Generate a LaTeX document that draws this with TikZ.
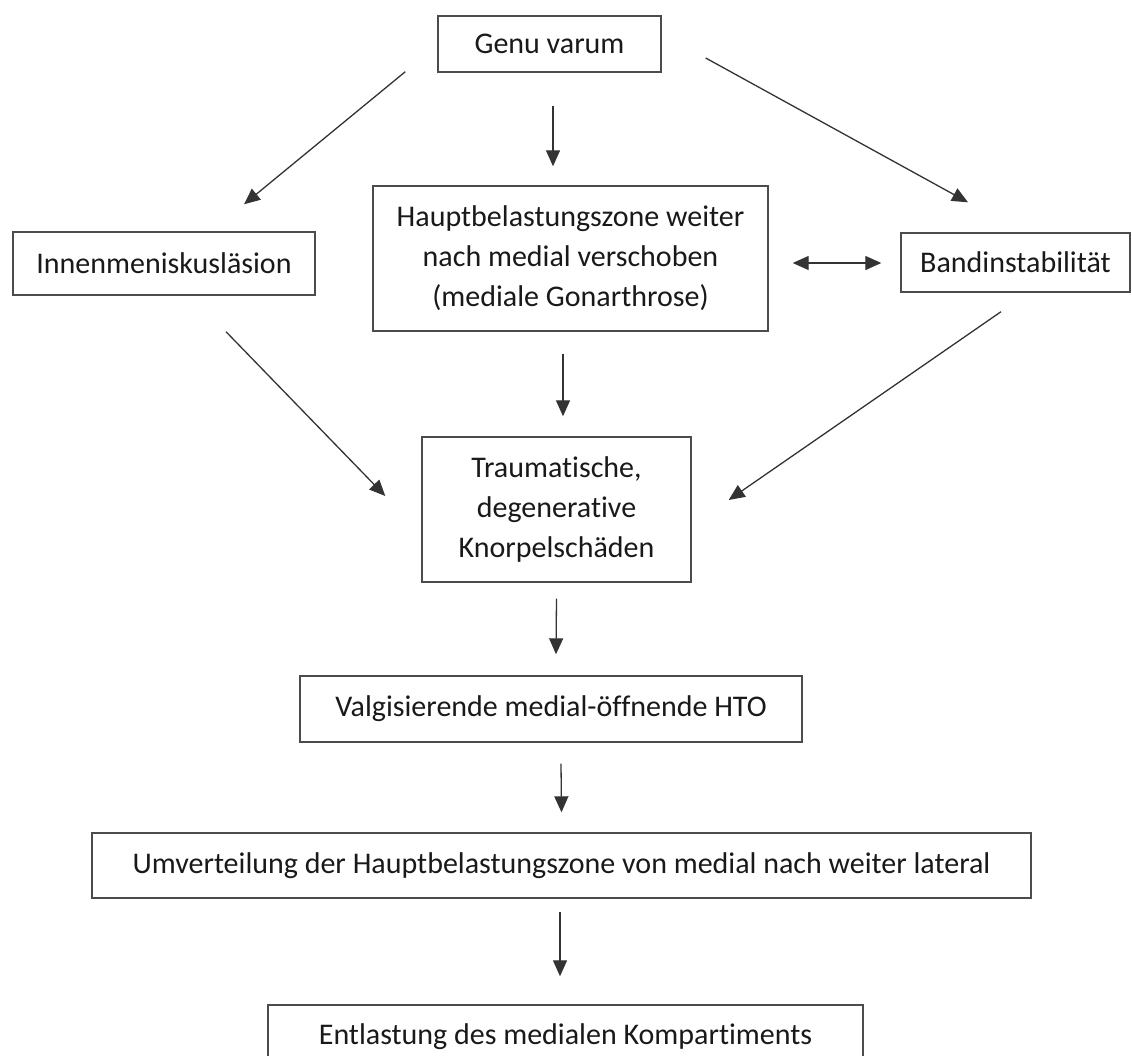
\documentclass[tikz,border=0pt]{standalone}
\usepackage{fontspec}
\setmainfont[Ligatures=NoCommon]{Carlito}
\usetikzlibrary{arrows.meta}

\begin{document}
\begin{tikzpicture}[x=1pt, y=-1pt,
        box/.style={draw=black!70, line width=1.4pt, align=center, inner sep=0pt,
            font=\fontsize{30}{40}\selectfont, text=black!90},
        arr/.style={-{Triangle[length=16pt,width=14pt]}, draw=black!80, line width=1.3pt},
        dblarr/.style={{Triangle[length=16pt,width=14pt]}-{Triangle[length=16pt,width=14pt]}, draw=black!80, line width=1.3pt}]
            \useasboundingbox (0, 0) rectangle (1132, 1055);

            % Nodes
            \node[box, minimum width=223pt, minimum height=56pt] (Genu) at (549.5, 44) {Genu varum};
            \node[box, minimum width=395pt, minimum height=145pt] (Haupt) at (570.5, 258.5)
                {Hauptbelastungszone weiter\\nach medial verschoben\\(mediale Gonarthrose)};
            \node[box, minimum width=302pt, minimum height=63pt] (Innen) at (164, 263.5) {Innenmeniskusläsion};
            \node[box, minimum width=229pt, minimum height=59pt] (Band) at (1015.5, 262.5) {Bandinstabilität};
            \node[box, minimum width=269pt, minimum height=145pt] (Knorpel) at (556.5, 509.5)
                {Traumatische,\\degenerative\\Knorpelschäden};
            \node[box, minimum width=502pt, minimum height=66pt] (HTO) at (551, 709) {Valgisierende medial-öffnende HTO};
            \node[box, minimum width=939pt, minimum height=65pt] (Umv) at (561.5, 865.5)
                {Umverteilung der Hauptbelastungszone von medial nach weiter lateral};
            \node[box, minimum width=595pt, minimum height=64pt] (Entl) at (565.5, 1037) {Entlastung des medialen Kompartiments};

            % Arrows
            \draw[arr] ([xshift=3.5pt, yshift=-33pt]Genu.south) -- ([xshift=-17.5pt, yshift=19pt]Haupt.north);
            \draw[arr] ([xshift=-32pt, yshift=1pt]Genu.south west) -- ([xshift=80pt, yshift=27pt]Innen.north);
            \draw[arr] ([xshift=44pt, yshift=-14pt]Genu.east) -- ([xshift=-47.5pt, yshift=30pt]Band.north);
            \draw[dblarr] ([xshift=24pt, yshift=-4.5pt]Haupt.east) -- ([xshift=-19pt, yshift=-0.5pt]Band.west);
            \draw[arr] ([xshift=62pt, yshift=-36pt]Innen.south) -- ([xshift=-36pt, yshift=13.5pt]Knorpel.west);
            \draw[arr] ([xshift=-14.5pt, yshift=-19pt]Band.south) -- ([xshift=37pt, yshift=9.5pt]Knorpel.east);
            \draw[arr] ([xshift=-7.5pt, yshift=-22pt]Haupt.south) -- ([xshift=6.5pt, yshift=20pt]Knorpel.north);
            \draw[arr] ([yshift=-16pt]Knorpel.south) -- ([xshift=5pt, yshift=21pt]HTO.north);
            \draw[arr] ([xshift=10pt, yshift=-21pt]HTO.south) -- ([yshift=20pt]Umv.north);
            \draw[arr] ([xshift=-1.5pt, yshift=-13pt]Umv.south) -- ([xshift=-5.5pt, yshift=28pt]Entl.north);
        \end{tikzpicture}
\end{document}
